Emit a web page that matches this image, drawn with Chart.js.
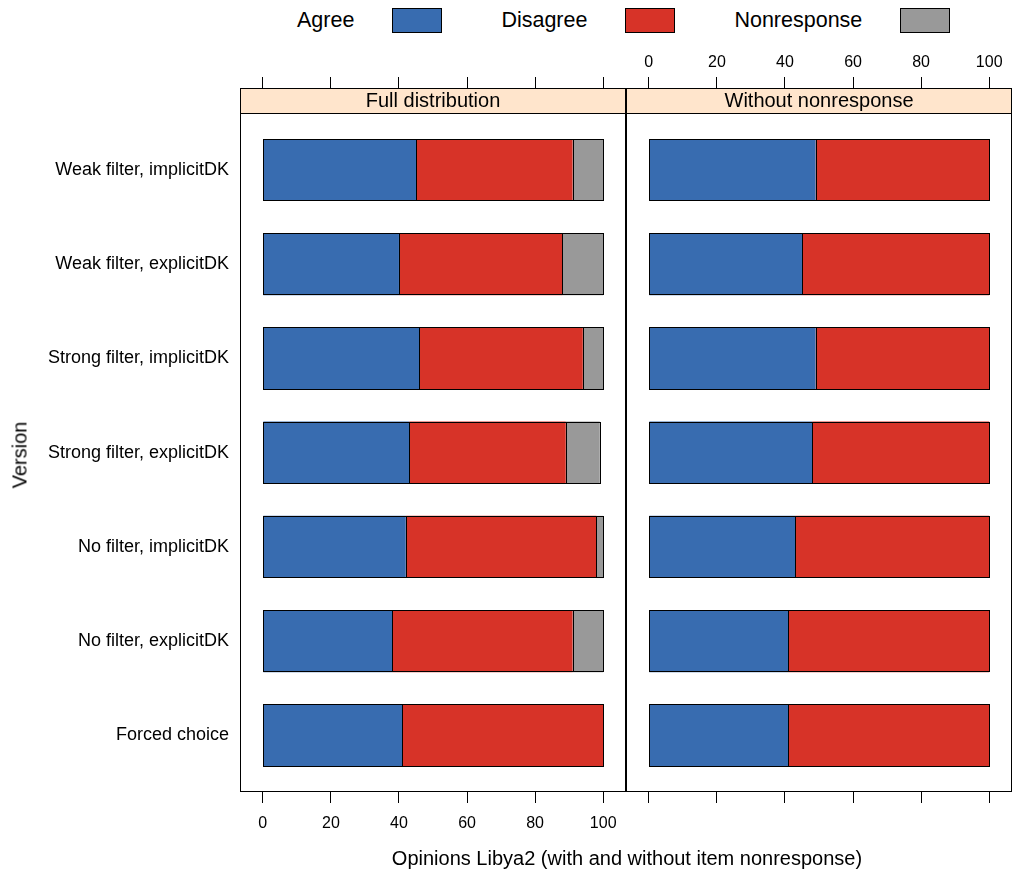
<!DOCTYPE html>
<html>
<head>
<meta charset="utf-8">
<title>Opinions Libya2</title>
<script src="https://cdn.jsdelivr.net/npm/chart.js@4.4.1/dist/chart.umd.min.js"></script>
<style>
  body { margin: 0; background: #fff; font-family: "Liberation Sans", Arial, sans-serif; }
  #wrap { position: relative; width: 1017px; height: 877px; overflow: hidden; }
  canvas { position: absolute; top: 0; }
  #legend { position: absolute; left: 297px; top: 8px; display: flex; align-items: center; font-size: 21.5px; color: #000; }
  #legend .item { display: flex; align-items: center; margin-right: 59px; }
  #legend .box { width: 48px; height: 23px; border: 1px solid #000; margin-left: 38px; }
  #ytitle { position: absolute; left: 20px; top: 455px; transform: translate(-50%, -50%) rotate(-90deg); font-size: 20px; white-space: nowrap; }
  #xtitle { position: absolute; left: 627px; top: 858px; transform: translate(-50%, -50%); font-size: 20px; white-space: nowrap; }
</style>
</head>
<body>
<div id="wrap">
  <div id="legend"></div>
  <canvas id="left" width="640" height="877" style="left:0px"></canvas>
  <canvas id="right" width="457" height="877" style="left:560px"></canvas>
  <div id="ytitle">Version</div>
  <div id="xtitle">Opinions Libya2 (with and without item nonresponse)</div>
</div>
<script>
// categories (top to bottom)
const versions = [
  'Weak filter, implicitDK',
  'Weak filter, explicitDK',
  'Strong filter, implicitDK',
  'Strong filter, explicitDK',
  'No filter, implicitDK',
  'No filter, explicitDK',
  'Forced choice'
];

// Full distribution (percent)
const agreeFull       = [45, 40, 46, 43, 42, 38, 41];
const disagreeFull    = [46, 48, 48, 46, 56, 53, 59];
const nonresponseFull = [9, 12, 6, 10, 2, 9, 0];

// Without nonresponse (percent)
const agreeValid    = [49, 45, 49, 48, 43, 41, 41];
const disagreeValid = [51, 55, 51, 52, 57, 59, 59];

const seriesNames = ['Agree', 'Disagree', 'Nonresponse'];
const xTicks = [0, 20, 40, 60, 80, 100];

const colors = {
  Agree: '#386cb0',
  Disagree: '#d73328',
  Nonresponse: '#999999'
};

const FONT = '"Liberation Sans", Arial, sans-serif';
Chart.defaults.font.family = FONT;
Chart.defaults.color = '#000';

// legend (text first, then box, like lattice)
const legendEl = document.getElementById('legend');
seriesNames.forEach(name => {
  const item = document.createElement('div');
  item.className = 'item';
  const label = document.createElement('span');
  label.textContent = name;
  const box = document.createElement('span');
  box.className = 'box';
  box.style.background = colors[name];
  item.appendChild(label);
  item.appendChild(box);
  legendEl.appendChild(item);
});

function toPoints(values) {
  return values.map((v, i) => ({ x: v, y: i }));
}

function barSet(name, values) {
  return {
    label: name,
    data: toPoints(values),
    backgroundColor: colors[name],
    borderWidth: 0,
    barPercentage: 0.66,
    categoryPercentage: 1
  };
}

// strip on top of the panel, crisp bar outlines, black frame
const panelPlugin = {
  id: 'panel',
  beforeDatasetsDraw(chart, args, opts) {
    const { ctx, chartArea: a, scales } = chart;
    const sb = Math.round(scales.y.getPixelForValue(-0.6));
    ctx.save();
    ctx.fillStyle = '#ffe5cc';
    ctx.fillRect(a.left, a.top, a.right - a.left, sb - a.top);
    ctx.fillStyle = '#000';
    ctx.font = '20px ' + FONT;
    ctx.textAlign = 'center';
    ctx.textBaseline = 'middle';
    ctx.fillText(opts.label, (a.left + a.right) / 2, (a.top + sb) / 2 + 1);
    ctx.restore();
  },
  afterDatasetsDraw(chart) {
    const { ctx } = chart;
    ctx.save();
    ctx.strokeStyle = '#000';
    ctx.lineWidth = 1;
    chart.data.datasets.forEach((ds, di) => {
      chart.getDatasetMeta(di).data.forEach(bar => {
        const p = bar.getProps(['x', 'y', 'base', 'height'], true);
        const l = Math.round(Math.min(p.x, p.base)) + 0.5;
        const r = Math.round(Math.max(p.x, p.base)) + 0.5;
        const t = Math.round(p.y - p.height / 2) + 0.5;
        const b = Math.round(p.y + p.height / 2) - 0.5;
        ctx.strokeRect(l, t, r - l, b - t);
      });
    });
    ctx.restore();
  },
  afterDraw(chart) {
    const { ctx, chartArea: a, scales } = chart;
    const sb = Math.round(scales.y.getPixelForValue(-0.6));
    ctx.save();
    ctx.strokeStyle = '#000';
    ctx.lineWidth = 1;
    const l = Math.round(a.left) + 0.5, r = Math.round(a.right) - 0.5;
    const t = Math.round(a.top) + 0.5, b = Math.round(a.bottom) - 0.5;
    ctx.strokeRect(l, t, r - l, b - t);
    ctx.beginPath();
    ctx.moveTo(l, sb + 0.5);
    ctx.lineTo(r, sb + 0.5);
    ctx.stroke();
    ctx.restore();
  }
};

function xAxis(position, showLabels, height) {
  return {
    type: 'linear',
    position: position,
    min: -6.7,
    max: 106.7,
    stacked: position === 'bottom',
    afterBuildTicks: s => { s.ticks = xTicks.map(v => ({ value: v })); },
    afterFit: s => { s.height = height; },
    grid: {
      display: true,
      drawOnChartArea: false,
      drawTicks: true,
      tickLength: 11,
      color: '#000',
      lineWidth: 1
    },
    border: { display: false },
    ticks: {
      display: showLabels,
      font: { size: 16 },
      color: '#000',
      padding: position === 'bottom' ? 11 : 5,
      maxRotation: 0
    }
  };
}

function yAxis(showLabels) {
  return {
    type: 'linear',
    reverse: true,
    stacked: true,
    offset: false,
    display: showLabels,
    min: -0.87,
    max: 6.6,
    afterBuildTicks: s => { s.ticks = versions.map((v, i) => ({ value: i })); },
    afterFit: s => { s.width = showLabels ? 240 : 0; },
    grid: { display: false, drawTicks: false, offset: false },
    border: { display: false },
    ticks: {
      font: { size: 18 },
      color: '#000',
      padding: 11,
      autoSkip: false,
      callback: v => versions[v]
    }
  };
}

function makeChart(id, datasets, label, leftLabels, padding) {
  return new Chart(document.getElementById(id), {
    type: 'bar',
    data: { datasets: datasets },
    options: {
      indexAxis: 'y',
      responsive: false,
      animation: false,
      devicePixelRatio: 1,
      layout: { padding: padding },
      scales: {
        x: xAxis('bottom', leftLabels, 85),
        x2: xAxis('top', !leftLabels, 88),
        y: yAxis(leftLabels)
      },
      plugins: {
        legend: { display: false },
        tooltip: { enabled: false },
        panel: { label: label }
      }
    },
    plugins: [panelPlugin]
  });
}

makeChart('left', [
  barSet('Agree', agreeFull),
  barSet('Disagree', disagreeFull),
  barSet('Nonresponse', nonresponseFull)
], 'Full distribution', true, { left: 0, right: 14, top: 0, bottom: 0 });

makeChart('right', [
  barSet('Agree', agreeValid),
  barSet('Disagree', disagreeValid)
], 'Without nonresponse', false, { left: 66, right: 5, top: 0, bottom: 0 });
</script>
</body>
</html>
